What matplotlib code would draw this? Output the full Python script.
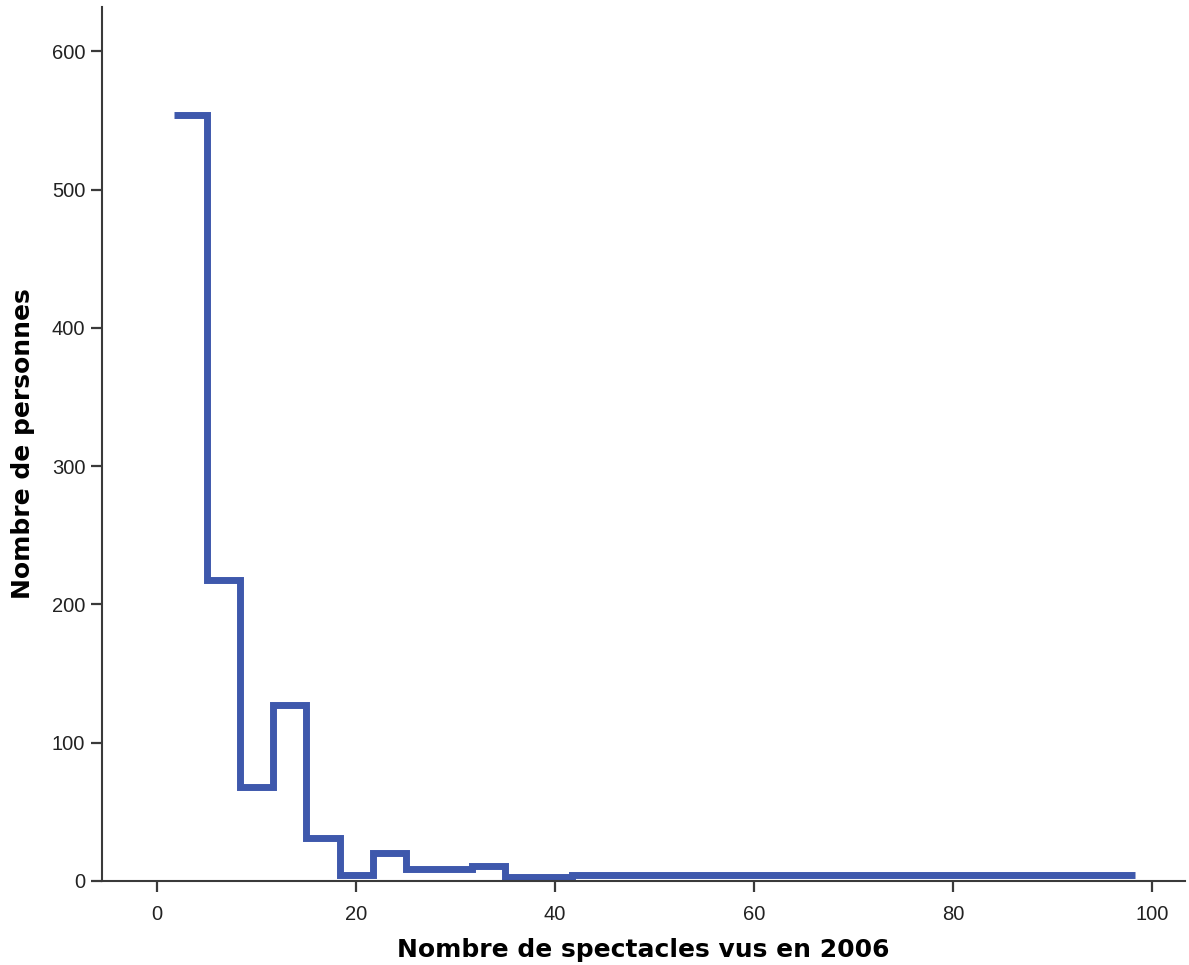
import numpy as np
import matplotlib
matplotlib.use("Agg")
import matplotlib.pyplot as plt

# histogram of the number of shows seen (step outline, SPSS style)
bin_start = 1.7
bin_width = 3.33
counts = [554, 218, 68, 127, 31, 4, 20, 9, 9, 11, 3, 3,
          4, 4, 4, 4, 4, 4, 4, 4, 4, 4, 4, 4, 4, 4, 4, 4, 4]
x_ticks = [0, 20, 40, 60, 80, 100]
y_ticks = [0, 100, 200, 300, 400, 500, 600]
x_label = "Nombre de spectacles vus en 2006"
y_label = "Nombre de personnes"

LINE_COLOR = "#3e58ac"
AXIS_COLOR = "#3a3a3a"

edges = bin_start + bin_width * np.arange(len(counts) + 1)

fig = plt.figure(figsize=(11.89, 9.65), dpi=100)
ax = fig.add_axes([102 / 1189, 1 - 881 / 965, (1185 - 102) / 1189, (881 - 7) / 965])

ax.stairs(counts, edges, baseline=None, color=LINE_COLOR, linewidth=5.0)
for ln in ax.patches:
    ln.set_joinstyle("miter")
    ln.set_capstyle("butt")

ax.set_xlim(-5.53, 103.3)
ax.set_ylim(0, 632)
ax.set_xticks(x_ticks)
ax.set_yticks(y_ticks)

for side in ("top", "right"):
    ax.spines[side].set_visible(False)
for side in ("left", "bottom"):
    ax.spines[side].set_color(AXIS_COLOR)
    ax.spines[side].set_linewidth(1.5)

ax.tick_params(axis="both", direction="out", length=8, width=1.6,
               color=AXIS_COLOR, labelcolor="#222222")
ax.tick_params(axis="x", pad=9)
ax.tick_params(axis="y", pad=4)
for lbl in ax.get_xticklabels() + ax.get_yticklabels():
    lbl.set_fontfamily("Liberation Sans")
    lbl.set_fontsize(14.5)

ax.set_xlabel(x_label, fontsize=18, fontweight="bold", family="DejaVu Sans", labelpad=10)
ax.set_ylabel(y_label, fontsize=18, fontweight="bold", family="DejaVu Sans", labelpad=12)

fig.savefig("out.png", dpi=100)
